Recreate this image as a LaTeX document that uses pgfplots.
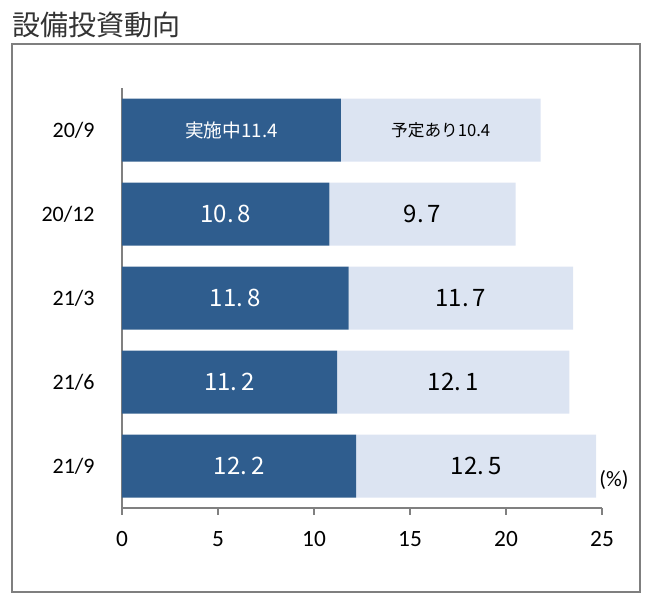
\documentclass[border=0pt]{standalone}
\usepackage{fontspec}
\setmainfont{Carlito}
\newfontfamily\jp{Noto Sans CJK JP}
\usepackage{pgfplots}
\pgfplotsset{compat=1.18}
\definecolor{darkbar}{HTML}{2F5D8E}
\definecolor{lightbar}{HTML}{DCE4F2}
\definecolor{frame}{HTML}{7F7F7F}

\begin{document}
\begin{tikzpicture}
\useasboundingbox (-91.5pt,-71.25pt) rectangle (396pt,381pt);
\draw[frame, line width=1.5pt] (-82.5pt,-63pt) rectangle (388.5pt,348pt);
\node[anchor=west, inner sep=0pt, font=\jp\fontsize{21}{24}\selectfont, text=black!80] at (-82.5pt,362.25pt) {設備投資動向};
\begin{axis}[
    name=main,
    at={(0,0)}, anchor=south west,
    scale only axis,
    width=360pt, height=315pt,
    xbar stacked,
    bar width=0.75,
    xmin=0, xmax=25,
    ymin=-0.5, ymax=4.5,
    y dir=reverse,
    axis x line=bottom, axis y line=left,
    axis line style={draw=gray, line width=1.1pt, -},
    xtick={0,5,10,15,20,25},
    ytick={0,1,2,3,4},
    yticklabels={20/9,20/12,21/3,21/6,21/9},
    tick align=outside,
    x tick style={gray, line width=1.1pt},
    major tick length=5pt,
    y tick style={draw=none},
    xticklabel style={font=\fontsize{17.5}{20}\selectfont, yshift=-9pt},
    yticklabel style={font=\fontsize{16.5}{18}\selectfont, anchor=east, xshift=-12pt},
    /pgf/number format/assume math mode=true,
]
\addplot[fill=darkbar, draw=none] coordinates {(11.4,0) (10.8,1) (11.8,2) (11.2,3) (12.2,4)};
\addplot[fill=lightbar, draw=none] coordinates {(10.4,0) (9.7,1) (11.7,2) (12.1,3) (12.5,4)};
\end{axis}
% segment labels: 1 unit = 14.4pt; row centres at 283.5, 220.5, 157.5, 94.5, 31.5 pt
\begin{scope}[x=14.4pt, y=1pt]
\node[text=white, font=\jp\fontsize{14}{16}\selectfont] at (5.7,283.5) {実施中11.4};
\node[font=\jp\fontsize{12.5}{14}\selectfont] at (16.6,283.5) {予定あり10.4};
\node[text=white, font=\jp\fontsize{18}{20}\selectfont] at (5.4,220.5) {10.\,8};
\node[font=\jp\fontsize{18}{20}\selectfont] at (15.65,220.5) {9.\,7};
\node[text=white, font=\jp\fontsize{18}{20}\selectfont] at (5.9,157.5) {11.\,8};
\node[font=\jp\fontsize{18}{20}\selectfont] at (17.65,157.5) {11.\,7};
\node[text=white, font=\jp\fontsize{18}{20}\selectfont] at (5.6,94.5) {11.\,2};
\node[font=\jp\fontsize{18}{20}\selectfont] at (17.25,94.5) {12.\,1};
\node[text=white, font=\jp\fontsize{18}{20}\selectfont] at (6.1,31.5) {12.\,2};
\node[font=\jp\fontsize{18}{20}\selectfont] at (18.45,31.5) {12.\,5};
\end{scope}
\node[font=\fontsize{16.5}{18}\selectfont] at (369pt,21pt) {(\%)};
\end{tikzpicture}
\end{document}
